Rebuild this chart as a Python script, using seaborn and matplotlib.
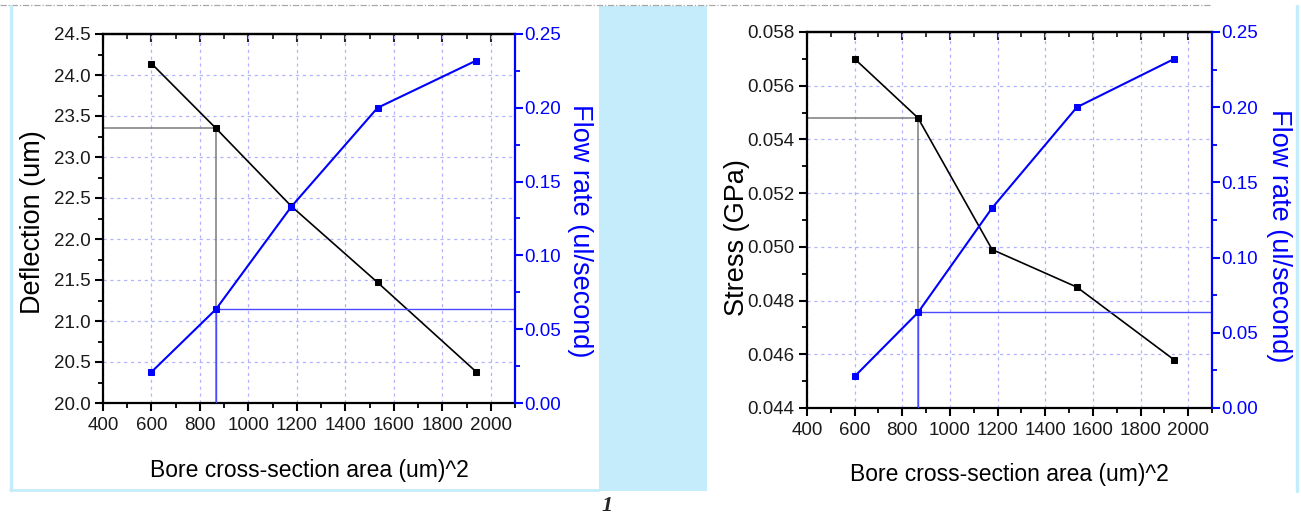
import matplotlib
matplotlib.use("Agg")
import matplotlib.pyplot as plt
import seaborn as sns
import pandas as pd
from matplotlib.ticker import MultipleLocator, FormatStrFormatter
from matplotlib.patches import Rectangle
from matplotlib.lines import Line2D

# Measured data: bore cross-section area vs. deflection, stress and flow rate
area = [600, 866, 1177, 1533, 1940]
deflection = [24.14, 23.35, 22.40, 21.47, 20.38]
stress = [0.0570, 0.0548, 0.0499, 0.0485, 0.0458]
flow_rate = [0.021, 0.0635, 0.133, 0.200, 0.232]
design_idx = 1  # selected design point, marked with guide lines

x_label = "Bore cross-section area (um)^2"
flow_label = "Flow rate (ul/second)"
left_label = "Deflection (um)"
right_label = "Stress (GPa)"

sns.set_style("ticks")
plt.rcParams["font.family"] = ["Liberation Sans", "DejaVu Sans"]

W, H = 1301, 514
fig = plt.figure(figsize=(W / 100, H / 100), dpi=100)
fig.patch.set_facecolor("white")

BLUE = "#0000ff"
FRAME = "#c5ecfa"
GRID = "#b2b2ff"
TICK_FS = 13.5


def px_rect(x0, y0, x1, y1):
    return [x0 / W, 1 - y1 / H, (x1 - x0) / W, (y1 - y0) / H]


# page decorations: dashed header rule, panel frames and middle band
fig.add_artist(Line2D([0, 1212 / W], [1 - 5 / H] * 2, transform=fig.transFigure,
                      color="#a8a8a8", lw=0.9, ls=(0, (5, 1.5, 1, 1.5))))
fig.add_artist(Rectangle((599 / W, 1 - 491 / H), 108 / W, 485 / H,
                         transform=fig.transFigure, color=FRAME, lw=0, zorder=0))
fig.add_artist(Line2D([10.5 / W] * 2, [1 - 6 / H, 1 - 490 / H], transform=fig.transFigure,
                      color=FRAME, lw=2.5))
fig.add_artist(Line2D([10 / W, 599 / W], [1 - 490 / H] * 2, transform=fig.transFigure,
                      color=FRAME, lw=2.0))
fig.add_artist(Line2D([1296.5 / W] * 2, [1 - 6 / H, 1 - 491 / H], transform=fig.transFigure,
                      color=FRAME, lw=2.5))


def panel(rect, yvals, ylim, ymajor, yminor, yfmt, ylabel, ylab_px, flow_lab_px, xlab_base):
    x0, y0, x1, y1 = rect
    ax = fig.add_axes(px_rect(*rect))
    ax.set_xlim(400, 2100)
    ax.set_ylim(*ylim)

    ax.grid(True, which="major", color=GRID, lw=0.9, ls=(0, (2.5, 3)))

    # guide lines to the selected design point (left axis)
    xd, yd = area[design_idx], yvals[design_idx]
    ax.plot([400, xd], [yd, yd], color="#7a7a7a", lw=1.1, zorder=2)
    ax.plot([xd, xd], [ylim[0], yd], color="#7a7a7a", lw=1.1, zorder=2)

    df = pd.DataFrame({"area": area, "y": yvals})
    sns.lineplot(data=df, x="area", y="y", ax=ax, color="black", lw=1.2,
                 marker="s", markersize=5, markeredgecolor="black", zorder=3)

    ax.xaxis.set_major_locator(MultipleLocator(200))
    ax.xaxis.set_minor_locator(MultipleLocator(100))
    ax.yaxis.set_major_locator(MultipleLocator(ymajor))
    ax.yaxis.set_minor_locator(MultipleLocator(yminor))
    ax.yaxis.set_major_formatter(FormatStrFormatter(yfmt))
    ax.tick_params(axis="both", which="major", direction="out", length=6, width=1.5,
                   labelsize=TICK_FS, color="black", labelcolor="#1a1a1a", pad=3)
    ax.tick_params(axis="both", which="minor", direction="out", length=3.5, width=1.3,
                   color="black")
    ax.tick_params(axis="x", pad=4)
    for s in ("left", "bottom", "top"):
        ax.spines[s].set_linewidth(1.6)
        ax.spines[s].set_color("black")
    ax.spines["right"].set_visible(False)

    top = ax.secondary_xaxis("top")
    top.xaxis.set_major_locator(MultipleLocator(200))
    top.xaxis.set_minor_locator(MultipleLocator(100))
    top.tick_params(which="major", direction="in", length=6, width=1.5, labeltop=False)
    top.tick_params(which="minor", direction="in", length=3.5, width=1.3)
    top.spines["top"].set_linewidth(1.6)

    ax.set_xlabel(x_label, fontsize=16.5, color="black")
    ax.xaxis.set_label_coords(0.5, (y1 - xlab_base) / (y1 - y0))
    ax.xaxis.label.set_va("baseline")
    ax.set_ylabel(ylabel, fontsize=19.5, color="black")
    ax.yaxis.set_label_coords((ylab_px[0] - x0) / (x1 - x0), (y1 - ylab_px[1]) / (y1 - y0))
    ax.yaxis.label.set_va("center")

    tw = ax.twinx()
    tw.set_ylim(0, 0.25)
    tw.plot([xd, 2100], [flow_rate[design_idx]] * 2, color="#4a4aff", lw=1.0, zorder=2)
    tw.plot([xd, xd], [0, flow_rate[design_idx]], color="#4a4aff", lw=1.0, zorder=2)
    dff = pd.DataFrame({"area": area, "flow": flow_rate})
    sns.lineplot(data=dff, x="area", y="flow", ax=tw, color=BLUE, lw=1.5,
                 marker="s", markersize=5, markeredgecolor=BLUE, zorder=3)
    tw.yaxis.set_major_locator(MultipleLocator(0.05))
    tw.yaxis.set_minor_locator(MultipleLocator(0.025))
    tw.yaxis.set_major_formatter(FormatStrFormatter("%.2f"))
    tw.tick_params(axis="y", which="major", direction="out", length=6, width=1.5,
                   labelsize=TICK_FS, color=BLUE, labelcolor=BLUE, pad=1)
    tw.tick_params(axis="y", which="minor", direction="out", length=3.5, width=1.3, color=BLUE)
    tw.spines["right"].set_color(BLUE)
    tw.spines["right"].set_linewidth(1.6)
    for s in ("left", "top", "bottom"):
        tw.spines[s].set_visible(False)
    tw.set_ylabel(flow_label, fontsize=19.5, color=BLUE, rotation=270)
    tw.yaxis.set_label_coords((flow_lab_px[0] - x0) / (x1 - x0),
                              (y1 - flow_lab_px[1]) / (y1 - y0))
    tw.yaxis.label.set_va("center")
    tw.yaxis.label.set_ha("center")
    ax.set_zorder(1)
    tw.set_zorder(2)
    return ax, tw


panel((103, 34, 515, 403), deflection, (20.0, 24.5), 0.5, 0.25, "%.1f",
      left_label, (33, 222), (580, 231), 477)
panel((807, 32, 1212, 408), stress, (0.044, 0.058), 0.002, 0.001, "%.3f",
      right_label, (737, 238), (1279, 236), 481)

fig.text(607 / W, 1 - 511 / H, "1", fontsize=16, fontstyle="italic", fontweight="bold",
         family=["Liberation Serif", "DejaVu Serif"], ha="center", va="baseline")

fig.savefig("out.png", dpi=100, facecolor="white")
